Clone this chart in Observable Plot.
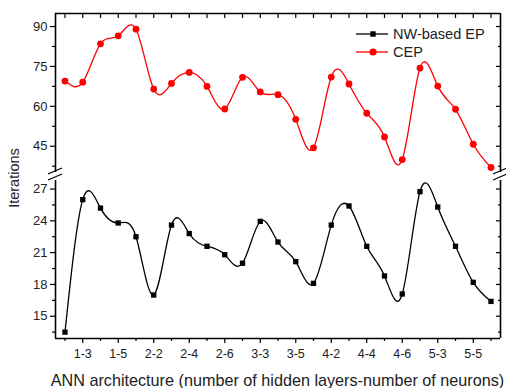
<!DOCTYPE html>
<html>
<head>
<meta charset="utf-8">
<script src="https://cdn.jsdelivr.net/npm/d3@7"></script>
<script src="https://cdn.jsdelivr.net/npm/@observablehq/plot@0.6"></script>
<style>
  html, body { margin: 0; padding: 0; background: #fff; }
  #wrap { position: relative; width: 506px; height: 388px; font-family: "Liberation Sans", Arial, sans-serif; }
  #wrap > svg, #wrap > figure { position: absolute; left: 0; margin: 0; }
</style>
</head>
<body>
<div id="wrap"></div>
<script>
// ---- data ----
const categories = ["1-2","1-3","1-4","1-5","1-6","2-2","2-3","2-4","2-5","2-6","3-2","3-3","3-4","3-5","3-6","4-2","4-3","4-4","4-5","4-6","5-2","5-3","5-4","5-5","5-6"];
const nwEP = [13.5, 26.0, 25.2, 23.8, 22.5, 17.0, 23.6, 22.8, 21.6, 20.8, 20.0, 23.95, 22.0, 20.15, 18.1, 23.6, 25.4, 21.6, 18.8, 17.1, 26.75, 25.3, 21.6, 18.2, 16.4];
const cep = [69.5, 69.1, 83.5, 86.5, 89.0, 66.5, 68.6, 72.75, 67.5, 59.0, 70.9, 65.4, 64.4, 55.1, 44.4, 71.0, 68.4, 57.4, 48.5, 40.0, 74.4, 67.6, 58.9, 45.75, 37.0];
const seriesNames = ["NW-based EP", "CEP"];
const upperTicks = [45, 60, 75, 90];
const upperMinor = [37.5, 52.5, 67.5, 82.5];
const lowerTicks = [15, 18, 21, 24, 27];
const lowerMinor = [13.5, 16.5, 19.5, 22.5, 25.5];
const xTitle = "ANN architecture (number of hidden layers-number of neurons)";
const yTitle = "Iterations";

const data = categories.map((c, i) => ({i, c, nw: nwEP[i], cep: cep[i]}));
const majorX = categories.map((c, i) => i).filter(i => i % 2 === 1);
const minorX = categories.map((c, i) => i).filter(i => i % 2 === 0);
const allX = categories.map((c, i) => i);
const xDomain = [-0.535, categories.length - 1 + 0.535];

const font = "Liberation Sans, Arial, sans-serif";
const W = 506;
const frameW = 1.6;
const blank = () => "";

const common = {
  width: W, marginLeft: 55, marginRight: 6,
  style: {fontFamily: font, background: "transparent", overflow: "visible"},
  x: {domain: xDomain, axis: null},
};

// ---- upper panel (CEP) ----
const upper = Plot.plot({
  ...common,
  height: 176, marginTop: 13, marginBottom: 3,
  y: {domain: [34.75, 94.9], axis: null},
  marks: [
    Plot.axisY({anchor: "left", ticks: upperTicks, tickSize: 5, tickPadding: 3, fontSize: 13, stroke: "black", strokeWidth: 1.2, fill: "#222", label: null}),
    Plot.axisY({anchor: "left", ticks: upperMinor, tickSize: 3, tickFormat: blank, stroke: "black", strokeWidth: 1.2, label: null}),
    Plot.axisY({anchor: "right", ticks: upperTicks, tickSize: 5, dx: -5, tickFormat: blank, stroke: "black", strokeWidth: 1.2, label: null}),
    Plot.axisY({anchor: "right", ticks: upperMinor, tickSize: 3, dx: -3, tickFormat: blank, stroke: "black", strokeWidth: 1.2, label: null}),
    Plot.axisX({anchor: "top", ticks: allX, tickSize: 4, dy: 4, tickFormat: blank, stroke: "black", strokeWidth: 1.2, label: null}),
    Plot.ruleX([xDomain[0], xDomain[1]], {stroke: "black", strokeWidth: frameW}),
    Plot.ruleY([94.9], {stroke: "black", strokeWidth: frameW}),
    Plot.line(data, {x: "i", y: "cep", curve: "natural", stroke: "#ff0000", strokeWidth: 1.3}),
    Plot.dot(data, {x: "i", y: "cep", r: 3.4, fill: "#ff0000", stroke: "none"})
  ]
});

// ---- lower panel (NW-based EP) ----
const lower = Plot.plot({
  ...common,
  height: 212, marginTop: 3, marginBottom: 50,
  y: {domain: [12.9, 27.9], axis: null},
  marks: [
    Plot.axisY({anchor: "left", ticks: lowerTicks, tickSize: 5, tickPadding: 3, fontSize: 13, stroke: "black", strokeWidth: 1.2, fill: "#222", label: null}),
    Plot.axisY({anchor: "left", ticks: lowerMinor, tickSize: 3, tickFormat: blank, stroke: "black", strokeWidth: 1.2, label: null}),
    Plot.axisY({anchor: "right", ticks: lowerTicks, tickSize: 5, dx: -5, tickFormat: blank, stroke: "black", strokeWidth: 1.2, label: null}),
    Plot.axisY({anchor: "right", ticks: lowerMinor, tickSize: 3, dx: -3, tickFormat: blank, stroke: "black", strokeWidth: 1.2, label: null}),
    Plot.axisX({anchor: "bottom", ticks: majorX, tickSize: 5, tickPadding: 6, fontSize: 12.5, tickFormat: i => categories[i], stroke: "black", strokeWidth: 1.2, fill: "#222", label: null}),
    Plot.axisX({anchor: "bottom", ticks: minorX, tickSize: 3, tickFormat: blank, stroke: "black", strokeWidth: 1.2, label: null}),
    Plot.ruleX([xDomain[0], xDomain[1]], {stroke: "black", strokeWidth: frameW}),
    Plot.ruleY([12.9], {stroke: "black", strokeWidth: frameW}),
    Plot.line(data, {x: "i", y: "nw", curve: "natural", stroke: "black", strokeWidth: 1.3}),
    Plot.dot(data, {x: "i", y: "nw", r: 3, symbol: "square", fill: "black", stroke: "none"})
  ]
});

const wrap = document.getElementById("wrap");
upper.style.top = "0px";
lower.style.top = "176px";
wrap.appendChild(lower);
wrap.appendChild(upper);

// ---- overlay: titles, legend, axis-break marks ----
const xs = upper.scale("x");
const xl = xs.apply(xDomain[0]), xr = xs.apply(xDomain[1]);
const ns = "http://www.w3.org/2000/svg";
const ov = document.createElementNS(ns, "svg");
ov.setAttribute("width", W); ov.setAttribute("height", 388);
ov.style.position = "absolute"; ov.style.left = "0px"; ov.style.top = "0px";
ov.style.fontFamily = font;
function el(tag, attrs, text) {
  const e = document.createElementNS(ns, tag);
  for (const k in attrs) e.setAttribute(k, attrs[k]);
  if (text != null) e.textContent = text;
  ov.appendChild(e);
  return e;
}
// break marks
for (const x0 of [xl, xr]) {
  el("rect", {x: x0 - 6, y: 172, width: 12, height: 8, fill: "white"});
  el("line", {x1: x0 - 7, y1: 174, x2: x0 + 7, y2: 168, stroke: "black", "stroke-width": 1.2});
  el("line", {x1: x0 - 7, y1: 180, x2: x0 + 7, y2: 174, stroke: "black", "stroke-width": 1.2});
}
// x title
el("text", {x: (xl + xr) / 2, y: 386, "text-anchor": "middle", "font-size": 16.2, fill: "#222"}, xTitle);
// y title
el("text", {transform: "translate(19,178) rotate(-90)", "text-anchor": "middle", "font-size": 14.5, fill: "#222"}, yTitle);
// legend
const legend = [
  {name: seriesNames[0], color: "black", sym: "square", y: 34},
  {name: seriesNames[1], color: "#ff0000", sym: "circle", y: 52}
];
for (const d of legend) {
  el("line", {x1: 356, x2: 388, y1: d.y, y2: d.y, stroke: d.color, "stroke-width": 1.3});
  if (d.sym === "square") el("rect", {x: 373 - 2.7, y: d.y - 2.7, width: 5.4, height: 5.4, fill: d.color});
  else el("circle", {cx: 373, cy: d.y, r: 3.6, fill: d.color});
  el("text", {x: 393, y: d.y + 5, "font-size": 14.5, fill: "#222"}, d.name);
}
wrap.appendChild(ov);
</script>
</body>
</html>
